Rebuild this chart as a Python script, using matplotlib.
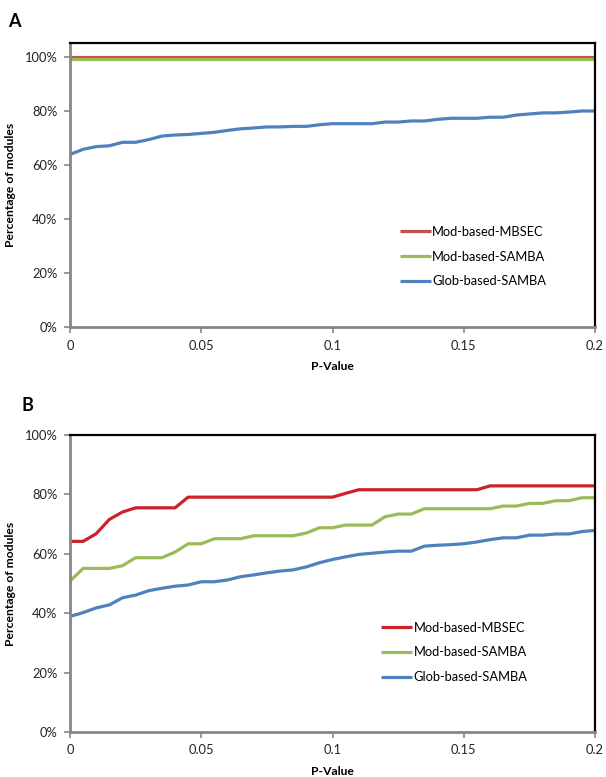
import matplotlib
matplotlib.use("Agg")
import matplotlib.pyplot as plt
from matplotlib.ticker import FuncFormatter

plt.rcParams["font.family"] = ["Lato", "DejaVu Sans"]

# P-value thresholds (x axis)
p_values = [0.000, 0.005, 0.010, 0.015, 0.020, 0.025, 0.030, 0.035, 0.040, 0.045,
            0.050, 0.055, 0.060, 0.065, 0.070, 0.075, 0.080, 0.085, 0.090, 0.095,
            0.100, 0.105, 0.110, 0.115, 0.120, 0.125, 0.130, 0.135, 0.140, 0.145,
            0.150, 0.155, 0.160, 0.165, 0.170, 0.175, 0.180, 0.185, 0.190, 0.195,
            0.200]

series_names = ["Mod-based-MBSEC", "Mod-based-SAMBA", "Glob-based-SAMBA"]

# panel A (fractions)
a_mbsec = [1.000, 1.000, 1.000, 1.000, 1.000, 1.000, 1.000, 1.000, 1.000, 1.000,
           1.000, 1.000, 1.000, 1.000, 1.000, 1.000, 1.000, 1.000, 1.000, 1.000,
           1.000, 1.000, 1.000, 1.000, 1.000, 1.000, 1.000, 1.000, 1.000, 1.000,
           1.000, 1.000, 1.000, 1.000, 1.000, 1.000, 1.000, 1.000, 1.000, 1.000,
           1.000]
a_samba = [0.995, 0.995, 0.995, 0.995, 0.995, 0.995, 0.995, 0.995, 0.995, 0.995,
           0.995, 0.995, 0.995, 0.995, 0.995, 0.995, 0.995, 0.995, 0.995, 0.995,
           0.995, 0.995, 0.995, 0.995, 0.995, 0.995, 0.995, 0.995, 0.995, 0.995,
           0.995, 0.995, 0.995, 0.995, 0.995, 0.995, 0.995, 0.995, 0.995, 0.995,
           0.995]
a_glob = [0.640, 0.659, 0.669, 0.672, 0.685, 0.685, 0.695, 0.708, 0.712, 0.714,
          0.718, 0.722, 0.729, 0.735, 0.738, 0.742, 0.742, 0.744, 0.744, 0.750,
          0.754, 0.754, 0.754, 0.754, 0.760, 0.760, 0.764, 0.764, 0.770, 0.774,
          0.774, 0.774, 0.778, 0.778, 0.786, 0.790, 0.794, 0.794, 0.797, 0.801,
          0.801]

# panel B (fractions)
b_mbsec = [0.642, 0.642, 0.668, 0.716, 0.741, 0.755, 0.755, 0.755, 0.755, 0.791,
           0.791, 0.791, 0.791, 0.791, 0.791, 0.791, 0.791, 0.791, 0.791, 0.791,
           0.791, 0.804, 0.816, 0.816, 0.816, 0.816, 0.816, 0.816, 0.816, 0.816,
           0.816, 0.816, 0.829, 0.829, 0.829, 0.829, 0.829, 0.829, 0.829, 0.829,
           0.829]
b_samba = [0.508, 0.551, 0.551, 0.551, 0.560, 0.587, 0.587, 0.587, 0.606, 0.634,
           0.634, 0.651, 0.651, 0.651, 0.661, 0.661, 0.661, 0.661, 0.670, 0.688,
           0.688, 0.697, 0.697, 0.697, 0.725, 0.734, 0.734, 0.752, 0.752, 0.752,
           0.752, 0.752, 0.752, 0.761, 0.761, 0.770, 0.770, 0.779, 0.779, 0.789,
           0.789]
b_glob = [0.389, 0.402, 0.418, 0.428, 0.452, 0.461, 0.476, 0.484, 0.491, 0.495,
          0.506, 0.506, 0.512, 0.523, 0.529, 0.536, 0.542, 0.546, 0.556, 0.570,
          0.581, 0.590, 0.598, 0.602, 0.606, 0.609, 0.609, 0.626, 0.629, 0.631,
          0.634, 0.640, 0.648, 0.654, 0.654, 0.663, 0.663, 0.667, 0.667, 0.675,
          0.679]

colors_a = ["#C0504D", "#9BBB59", "#4F81BD"]
colors_b = ["#CC2229", "#9BBB59", "#4F81BD"]

FS = 9.3


def style_axis(ax, ymax):
    ax.set_xlim(0, 0.2)
    ax.set_ylim(0, ymax)
    ax.set_xticks([0, 0.05, 0.1, 0.15, 0.2])
    ax.set_xticklabels(["0", "0.05", "0.1", "0.15", "0.2"])
    ax.set_yticks([0, 0.2, 0.4, 0.6, 0.8, 1.0])
    ax.yaxis.set_major_formatter(FuncFormatter(lambda v, _: f"{v * 100:.0f}%"))
    for side in ("left", "bottom"):
        ax.spines[side].set_color("#868686")
        ax.spines[side].set_linewidth(2)
    for side in ("top", "right"):
        ax.spines[side].set_color("black")
        ax.spines[side].set_linewidth(1.6)
    ax.tick_params(axis="both", direction="out", length=4, width=1.2,
                   color="#868686", labelsize=FS, labelcolor="#222222", pad=5)
    ax.set_xlabel("P-Value", fontsize=8.7, fontweight="bold", labelpad=7)
    ax.set_ylabel("Percentage of modules", fontsize=8.7, fontweight="bold", labelpad=6)


def draw_panel(ax, series, colors, legend_anchor):
    for vals, name, c in zip(series, series_names, colors):
        ax.plot(p_values, vals, color=c, lw=2.3, label=name, solid_capstyle="butt")
    ax.legend(loc="upper left", bbox_to_anchor=legend_anchor, frameon=False,
              fontsize=FS, handlelength=2.4, handletextpad=0.1, labelspacing=1.0,
              borderaxespad=0, borderpad=0)


fig = plt.figure(figsize=(6.06, 7.77), dpi=100)

ax_a = fig.add_axes([0.1155, 0.579, 0.8665, 0.366])
style_axis(ax_a, 1.054)
draw_panel(ax_a, [a_mbsec, a_samba, a_glob], colors_a, (0.628, 0.357))
fig.text(0.013, 0.972, "A", fontsize=13, fontweight="bold", va="center")

ax_b = fig.add_axes([0.1155, 0.058, 0.8665, 0.382])
style_axis(ax_b, 1.0)
draw_panel(ax_b, [b_mbsec, b_samba, b_glob], colors_b, (0.593, 0.372))
fig.text(0.035, 0.478, "B", fontsize=13, fontweight="bold", va="center")

fig.savefig("out.png", dpi=100)
